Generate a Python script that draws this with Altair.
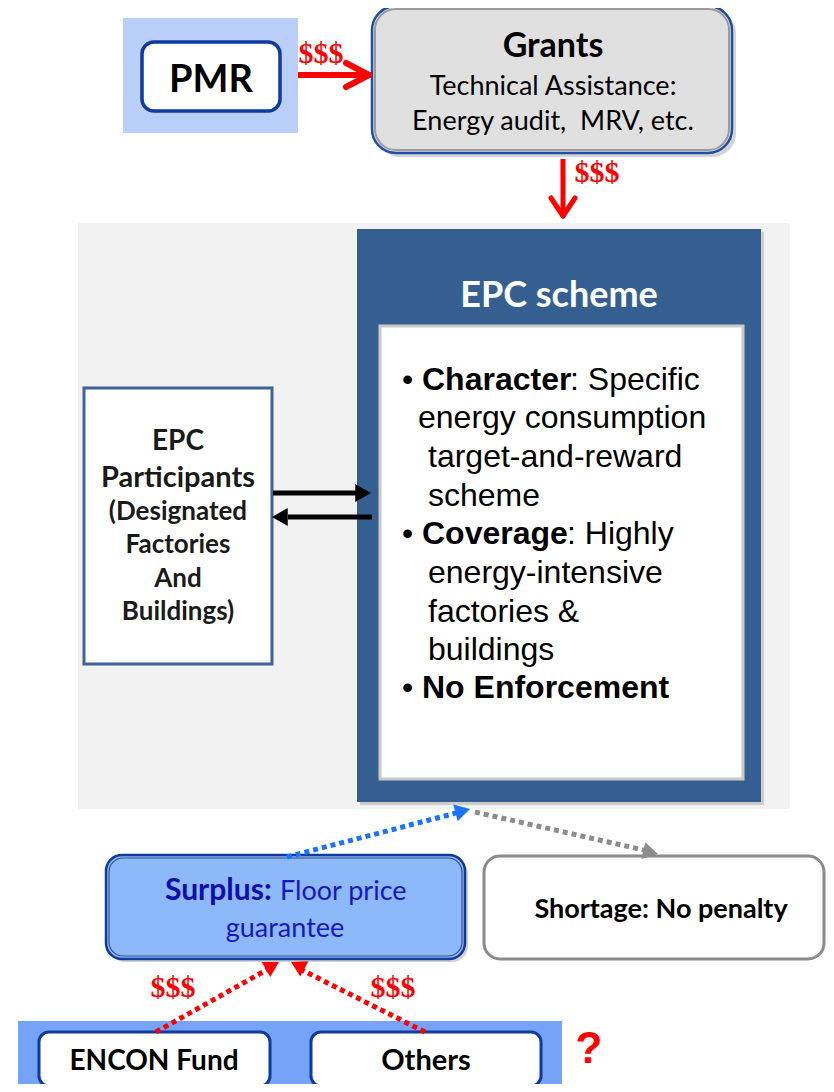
import math
import altair as alt
import pandas as pd

# ---- frame: data units == page pixels ----
X_MIN, X_MAX = 8, 826
Y_MIN, Y_MAX = 8, 1084

# ---- boxes ----
box_names = ["pmr_bg", "pmr", "grants_shadow", "grants", "grants_inner", "panel_bg",
             "epc_shadow", "epc", "epc_inner", "participants", "surplus_shadow", "surplus",
             "surplus_inner", "shortage", "fund_band", "encon", "others"]
box_x0 = [123, 142, 376, 372, 375, 78, 360, 357, 380, 84, 109, 106, 109, 484, 18, 39, 311]
box_x1 = [298, 280, 736, 732, 729, 790, 764, 761, 743, 272, 468, 465, 462, 824, 562, 270, 541]
box_y0 = [18, 42, 10, 6, 9, 223, 232, 229, 326, 388, 858, 855, 858, 856, 1021, 1032, 1032]
box_y1 = [133, 111, 157, 153, 150, 809, 805, 802, 779, 664, 962, 959, 956, 959, 1095, 1086, 1086]
box_fill = ["#B9CFFA", "#FFFFFF", "#A0A0A0", "#E0E0E0", "none", "#F2F2F2",
            "#A8A8A8", "#365F91", "#FFFFFF", "#FFFFFF", "#9A9A9A", "#8DB8FA",
            "none", "#FFFFFF", "#74A3F8", "#FFFFFF", "#FFFFFF"]
box_stroke = ["none", "#0D3B9E", "none", "#1F4FA6", "#9B9B9B", "none",
              "none", "none", "#C9C9C9", "#3E6497", "none", "#0D3C9E",
              "#3D4F7A", "#8A8A8A", "none", "#0D3B9E", "#0D3B9E"]
box_sw = [0, 3.5, 0, 2.5, 2, 0, 0, 0, 3, 3, 0, 2.5, 1.2, 3, 0, 3, 3]
box_r = [0, 12, 24, 24, 21, 0, 0, 0, 0, 0, 16, 16, 14, 16, 0, 10, 10]
box_op = [1, 1, 0.45, 1, 1, 1, 0.5, 1, 1, 1, 0.45, 1, 1, 1, 1, 1, 1]

# ---- line segments ----
seg_x0 = [298, 346, 346, 563, 551, 575, 273, 372, 287, 475, 156, 425]
seg_y0 = [75, 63, 87, 159, 198, 198, 493, 517, 857, 812, 1032, 1032]
seg_x1 = [365, 369, 369, 563, 563, 563, 357, 288, 460, 648, 270, 298]
seg_y1 = [75, 75, 75, 214, 216, 216, 493, 517, 812, 851, 968, 968]
seg_color = ["#FF0000"] * 6 + ["#000000", "#000000", "#1A73FF", "#8C8C8C", "#FF0000", "#FF0000"]
seg_sw = [6, 6, 6, 5, 5, 5, 5, 5, 5, 5, 5, 5]
seg_dashed = [False] * 8 + [True] * 4
seg_cap = ["butt", "round", "round", "butt", "round", "round", "butt", "butt", "butt", "butt", "butt", "butt"]

# ---- filled arrow heads: tip, and the point they come from ----
head_tip_x = [371, 272, 470, 658, 279, 291]
head_tip_y = [493, 517, 809, 854, 962, 962]
head_from_x = [273, 372, 287, 475, 156, 425]
head_from_y = [493, 517, 857, 812, 1032, 1032]
head_color = ["#000000", "#000000", "#1A73FF", "#8C8C8C", "#FF0000", "#FF0000"]
head_size = [330, 330, 300, 300, 300, 300]

# ---- texts ----
txt_text = ["PMR", "Grants", "Technical Assistance:", "Energy audit,\u00a0 MRV, etc.",
            "$$$", "$$$", "EPC scheme",
            "EPC", "Participants", "(Designated", "Factories", "And", "Buildings)",
            "•", "Character", ": Specific", "energy consumption", "target-and-reward", "scheme",
            "•", "Coverage", ": Highly", "energy-intensive", "factories &", "buildings",
            "•", "No Enforcement",
            "Surplus:", "Floor price", "guarantee", "Shortage: No penalty",
            "$$$", "$$$", "ENCON Fund", "Others", "?"]
txt_x = [211, 553, 553, 553, 321, 597, 559,
         178, 178, 178, 178, 178, 178,
         402, 422, 570, 418, 428, 428,
         402, 422, 567, 428, 428, 428,
         402, 422,
         165, 280, 285, 661,
         173, 393, 154, 426, 589]
txt_y = [92, 57, 95, 130, 63, 182, 307,
         450, 487, 520, 553, 587, 620,
         390, 390, 390, 428, 467, 506,
         544, 544, 544, 583, 622, 660,
         698, 698,
         900, 900, 937, 918,
         997, 997, 1070, 1070, 1063]
SANS = "Liberation Sans"
CAL = "Lato"
SERIF = "Liberation Serif"
txt_font = [CAL, CAL, CAL, CAL, SERIF, SERIF, CAL] + [CAL] * 6 + [SANS] * 14 + [CAL] * 4 + [SERIF, SERIF, CAL, CAL, SANS]
txt_size = [38, 34, 27, 27, 30, 30, 36,
            28, 29, 26, 26, 26, 26,
            32, 32, 32, 32, 32, 32,
            32, 32, 32, 32, 32, 32,
            32, 32,
            30, 27, 27, 27,
            30, 30, 28, 29, 44]
txt_bold = [True, True, False, False, True, True, True,
            True, True, True, True, True, True,
            False, True, False, False, False, False,
            False, True, False, False, False, False,
            False, True,
            True, False, False, True,
            True, True, True, True, True]
txt_color = ["#000000"] * 4 + ["#FF0000", "#FF0000", "#FFFFFF"] + ["#1A1A1A"] * 6 + ["#000000"] * 14 + \
            ["#0E0EA8", "#1717C0", "#1717C0", "#000000", "#FF0000", "#FF0000", "#000000", "#000000", "#FF0000"]
txt_align = ["center"] * 13 + ["left"] * 14 + ["left", "left", "center", "center", "center", "center", "center", "center", "center"]

xs = alt.Scale(domain=[X_MIN, X_MAX], nice=False, zero=False)
ys = alt.Scale(domain=[Y_MIN, Y_MAX], nice=False, zero=False, reverse=True)

layers = []

for i in range(len(box_names)):
    df = pd.DataFrame({"x": [box_x0[i]], "x2": [box_x1[i]], "y": [box_y0[i]], "y2": [box_y1[i]]})
    kw = dict(cornerRadius=box_r[i], opacity=box_op[i])
    if box_fill[i] != "none":
        kw["fill"] = box_fill[i]
    else:
        kw["fillOpacity"] = 0
        kw["fill"] = "#FFFFFF"
    if box_stroke[i] != "none":
        kw["stroke"] = box_stroke[i]
        kw["strokeWidth"] = box_sw[i]
    layers.append(alt.Chart(df).mark_rect(**kw).encode(
        x=alt.X("x:Q", scale=xs, axis=None), x2="x2:Q",
        y=alt.Y("y:Q", scale=ys, axis=None), y2="y2:Q"))

for i in range(len(seg_x0)):
    df = pd.DataFrame({"x": [seg_x0[i]], "x2": [seg_x1[i]], "y": [seg_y0[i]], "y2": [seg_y1[i]]})
    kw = dict(color=seg_color[i], strokeWidth=seg_sw[i], strokeCap=seg_cap[i])
    if seg_dashed[i]:
        kw["strokeDash"] = [5, 4]
    layers.append(alt.Chart(df).mark_rule(**kw).encode(
        x=alt.X("x:Q", scale=xs, axis=None), x2="x2:Q",
        y=alt.Y("y:Q", scale=ys, axis=None), y2="y2:Q"))

for i in range(len(head_tip_x)):
    dx = head_tip_x[i] - head_from_x[i]
    dy = head_tip_y[i] - head_from_y[i]
    L = math.hypot(dx, dy)
    ux, uy = dx / L, dy / L
    ang = math.degrees(math.atan2(dx, -dy)) % 360
    h = (math.sqrt(3) / 2) * (math.sqrt(head_size[i]) / 2)
    cx, cy = head_tip_x[i] - ux * h, head_tip_y[i] - uy * h
    df = pd.DataFrame({"x": [cx], "y": [cy]})
    layers.append(alt.Chart(df).mark_point(
        shape="triangle-up", filled=True, opacity=1, size=head_size[i],
        angle=ang, color=head_color[i], strokeWidth=0).encode(
        x=alt.X("x:Q", scale=xs, axis=None), y=alt.Y("y:Q", scale=ys, axis=None)))

for i in range(len(txt_text)):
    df = pd.DataFrame({"x": [txt_x[i]], "y": [txt_y[i]], "t": [txt_text[i]]})
    layers.append(alt.Chart(df).mark_text(
        align=txt_align[i], baseline="alphabetic", font=txt_font[i], fontSize=txt_size[i],
        fontWeight="bold" if txt_bold[i] else "normal", color=txt_color[i]).encode(
        x=alt.X("x:Q", scale=xs, axis=None), y=alt.Y("y:Q", scale=ys, axis=None), text="t:N"))

chart = alt.layer(*layers).properties(
    width=X_MAX - X_MIN, height=Y_MAX - Y_MIN, padding=0,
    autosize=alt.AutoSizeParams(type="none"), background="#FFFFFF"
).configure_view(stroke=None)

chart.save("out.html", embed_options={"renderer": "svg", "actions": False})
